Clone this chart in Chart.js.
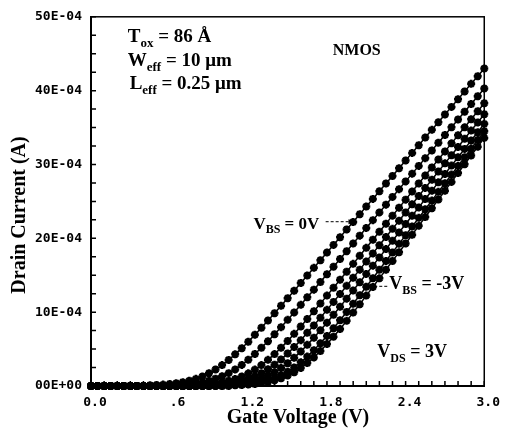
<!DOCTYPE html>
<html>
<head>
<meta charset="utf-8">
<script src="https://cdn.jsdelivr.net/npm/chart.js@4/dist/chart.umd.min.js"></script>
<style>
  html, body { margin: 0; padding: 0; background: #fff; }
</style>
</head>
<body>
<canvas id="ivChart" width="505" height="435"></canvas>
<script>
// gate voltage sweep (V)
var gateVoltage = [0.00,0.05,0.10,0.15,0.20,0.25,0.30,0.35,0.40,0.45,0.50,0.55,0.60,0.65,0.70,0.75,0.80,0.85,0.90,0.95,
  1.00,1.05,1.10,1.15,1.20,1.25,1.30,1.35,1.40,1.45,1.50,1.55,1.60,1.65,1.70,1.75,1.80,1.85,1.90,1.95,
  2.00,2.05,2.10,2.15,2.20,2.25,2.30,2.35,2.40,2.45,2.50,2.55,2.60,2.65,2.70,2.75,2.80,2.85,2.90,2.95,3.00];

// drain current, units of 1E-04 A
var vbs0 = [0,0,0,0,0,0,0,0,0,0.09,0.13,0.19,0.26,0.37,0.51,0.71,0.97,1.3,1.72,2.23,2.83,3.52,4.29,5.12,6.0,6.93,7.88,8.86,9.86,10.87,
  11.89,12.91,13.94,14.97,16.0,17.03,18.07,19.11,20.15,21.19,22.22,23.26,24.3,25.34,26.38,27.42,28.45,29.49,30.53,31.57,
  32.61,33.65,34.69,35.72,36.76,37.8,38.84,39.88,40.92,41.96,42.99];
var vbs05 = [0,0,0,0,0,0,0,0,0,0,0,0,0.09,0.13,0.19,0.27,0.37,0.52,0.72,0.98,1.32,1.74,2.25,2.86,3.56,4.33,5.17,6.07,7.0,7.97,
  8.96,9.97,10.99,12.01,13.05,14.09,15.13,16.16,17.21,18.26,19.31,20.36,21.41,22.46,23.51,24.56,25.61,26.66,27.71,28.76,
  29.81,30.86,31.9,32.95,34.0,35.05,36.1,37.15,38.2,39.25,40.3];
var vbs1 = [0,0,0,0,0,0,0,0,0,0,0,0,0,0,0,0.09,0.13,0.18,0.26,0.36,0.5,0.7,0.95,1.29,1.71,2.22,2.83,3.54,4.32,5.18,
  6.1,7.06,8.06,9.08,10.12,11.18,12.24,13.31,14.39,15.47,16.54,17.63,18.71,19.8,20.89,21.98,23.07,24.15,25.24,26.33,
  27.42,28.51,29.59,30.68,31.77,32.86,33.95,35.03,36.12,37.21,38.3];
var vbs15 = [0,0,0,0,0,0,0,0,0,0,0,0,0,0,0,0,0,0.09,0.13,0.19,0.26,0.37,0.51,0.71,0.97,1.31,1.74,2.26,2.89,3.6,
  4.41,5.28,6.21,7.2,8.21,9.25,10.31,11.39,12.47,13.56,14.66,15.76,16.85,17.96,19.07,20.17,21.28,22.39,23.5,24.61,
  25.72,26.83,27.93,29.04,30.15,31.26,32.37,33.48,34.59,35.69,36.8];
var vbs2 = [0,0,0,0,0,0,0,0,0,0,0,0,0,0,0,0,0,0,0,0.1,0.14,0.2,0.29,0.4,0.56,0.77,1.05,1.42,1.87,2.43,
  3.08,3.83,4.67,5.57,6.53,7.54,8.58,9.65,10.74,11.83,12.94,14.06,15.18,16.3,17.41,18.54,19.67,20.8,21.93,23.06,
  24.19,25.32,26.45,27.58,28.71,29.85,30.98,32.11,33.24,34.37,35.5];
var vbs25 = [0,0,0,0,0,0,0,0,0,0,0,0,0,0,0,0,0,0,0,0,0,0.1,0.15,0.21,0.3,0.42,0.58,0.8,1.09,1.47,
  1.94,2.52,3.2,3.98,4.84,5.78,6.78,7.83,8.91,10.02,11.14,12.28,13.43,14.59,15.75,16.92,18.07,19.25,20.42,21.59,
  22.77,23.94,25.11,26.29,27.46,28.63,29.81,30.98,32.15,33.33,34.5];
var vbs3 = [0,0,0,0,0,0,0,0,0,0,0,0,0,0,0,0,0,0,0,0,0,0,0.1,0.14,0.2,0.28,0.4,0.55,0.76,1.05,
  1.41,1.87,2.43,3.1,3.87,4.74,5.68,6.68,7.73,8.82,9.94,11.08,12.24,13.41,14.58,15.75,16.94,18.11,19.3,20.49,
  21.69,22.88,24.07,25.26,26.45,27.64,28.83,30.03,31.22,32.41,33.6];

var seriesList = [vbs0, vbs05, vbs1, vbs15, vbs2, vbs25, vbs3];
var seriesNames = ['VBS=0V', 'VBS=-0.5V', 'VBS=-1V', 'VBS=-1.5V', 'VBS=-2V', 'VBS=-2.5V', 'VBS=-3V'];

var xTickVals = [0, 0.6, 1.2, 1.8, 2.4, 3.0];
var xTickLabels = ['0.0', ' .6', '1.2', '1.8', '2.4', '3.0'];
var yTickVals = [0, 10, 20, 30, 40, 50];
var yTickLabels = ['00E+00', '10E-04', '20E-04', '30E-04', '40E-04', '50E-04'];
var xMinorTicks = [0.1,0.2,0.3,0.4,0.5,0.7,0.8,0.9,1.0,1.1,1.3,1.4,1.5,1.6,1.7,1.9,2.0,2.1,2.2,2.3,2.5,2.6,2.7,2.8,2.9];
var yMinorTicks = [2.5,5,7.5,12.5,15,17.5,22.5,25,27.5,32.5,35,37.5,42.5,45,47.5];

var xTitle = 'Gate Voltage (V)';
var yTitle = 'Drain Current (A)';

// text notes: [x (V), y (1E-04 A), parts [text, isSub], size]
var notes = [
  [0.28, 46.65, [['T', 0], ['ox', 1], [' = 86 \u00C5', 0]], 19],
  [0.28, 43.4, [['W', 0], ['eff', 1], [' = 10 \u03BCm', 0]], 19],
  [0.295, 40.2, [['L', 0], ['eff', 1], [' = 0.25 \u03BCm', 0]], 19],
  [1.844, 44.8, [['NMOS', 0]], 16],
  [1.239, 21.3, [['V', 0], ['BS', 1], [' = 0V', 0]], 17],
  [2.275, 13.1, [['V', 0], ['BS', 1], [' = -3V', 0]], 18],
  [2.184, 3.9, [['V', 0], ['DS', 1], [' = 3V', 0]], 18]
];
// arrows: [x from, x to, y]
var arrows = [[1.79, 2.01, 22.25], [2.26, 2.093, 13.5]];

function drawParts(ctx, x, y, parts, size) {
  parts.forEach(function(p) {
    var s = p[1] ? Math.round(size * 0.68) : size;
    ctx.font = 'bold ' + s + 'px "Liberation Serif"';
    ctx.fillText(p[0], x, y + (p[1] ? size * 0.28 : 0));
    x += ctx.measureText(p[0]).width;
  });
}

var decorPlugin = {
  id: 'decor',
  afterDraw: function(chart) {
    var ctx = chart.ctx, a = chart.chartArea;
    var xs = chart.scales.x, ys = chart.scales.y;
    ctx.save();
    ctx.strokeStyle = '#000';
    ctx.fillStyle = '#000';
    ctx.lineWidth = 1.5;
    ctx.strokeRect(a.left, a.top, a.right - a.left, a.bottom - a.top);
    // inward ticks
    ctx.beginPath();
    xTickVals.concat(xMinorTicks).forEach(function(v) {
      var px = xs.getPixelForValue(v);
      ctx.moveTo(px, a.bottom); ctx.lineTo(px, a.bottom - 5);
    });
    yTickVals.concat(yMinorTicks).forEach(function(v) {
      var py = ys.getPixelForValue(v);
      ctx.moveTo(a.left, py); ctx.lineTo(a.left + 5, py);
    });
    ctx.stroke();
    // axis titles
    ctx.font = 'bold 20px "Liberation Serif"';
    ctx.textAlign = 'center';
    ctx.textBaseline = 'middle';
    ctx.fillText(xTitle, 298, 418);
    ctx.save();
    ctx.translate(20, 215);
    ctx.rotate(-Math.PI / 2);
    ctx.fillText(yTitle, 0, 0);
    ctx.restore();
    // notes
    ctx.textBaseline = 'alphabetic';
    ctx.textAlign = 'left';
    notes.forEach(function(n) {
      drawParts(ctx, xs.getPixelForValue(n[0]), ys.getPixelForValue(n[1]), n[2], n[3]);
    });
    // dashed arrows
    arrows.forEach(function(ar) {
      var x1 = xs.getPixelForValue(ar[0]), x2 = xs.getPixelForValue(ar[1]), y = ys.getPixelForValue(ar[2]);
      var dir = x2 > x1 ? 1 : -1;
      ctx.lineWidth = 1;
      ctx.setLineDash([3, 2]);
      ctx.beginPath(); ctx.moveTo(x1, y); ctx.lineTo(x2 - dir * 5, y); ctx.stroke();
      ctx.setLineDash([]);
      ctx.beginPath();
      ctx.moveTo(x2, y); ctx.lineTo(x2 - dir * 6, y - 2.5); ctx.lineTo(x2 - dir * 6, y + 2.5);
      ctx.closePath(); ctx.fill();
    });
    ctx.restore();
  }
};

var datasets = seriesList.map(function(s, k) {
  return {
    label: seriesNames[k],
    data: gateVoltage.map(function(v, i) { return { x: v, y: s[i] }; }),
    borderColor: '#000',
    backgroundColor: '#000',
    borderWidth: 1.5,
    pointStyle: 'star',
    pointRadius: 4,
    pointBorderWidth: 2.5,
    pointBorderColor: '#000',
    tension: 0,
    clip: false
  };
});

var CHART = document.getElementById('ivChart');
var ivChart = new Chart(CHART, {
  type: 'line',
  data: { datasets: datasets },
  options: {
    responsive: false,
    animation: false,
    events: [],
    layout: { padding: { top: 13, right: 17, left: 0, bottom: 0 } },
    plugins: { legend: { display: false }, tooltip: { enabled: false } },
    scales: {
      x: {
        type: 'linear', min: 0, max: 3,
        afterFit: function(s) { s.height = 49; },
        afterBuildTicks: function(s) { s.ticks = xTickVals.map(function(v) { return { value: v }; }); },
        grid: { display: true, drawOnChartArea: false, drawTicks: false },
        border: { color: '#000', width: 2 },
        ticks: {
          padding: 9, color: '#000', maxRotation: 0, autoSkip: false, labelOffset: 4,
          font: { family: '"DejaVu Sans Mono"', weight: 'bold', size: 13 },
          callback: function(v, i) { return xTickLabels[i]; }
        }
      },
      y: {
        type: 'linear', min: 0, max: 50,
        afterFit: function(s) { s.width = 91; },
        afterBuildTicks: function(s) { s.ticks = yTickVals.map(function(v) { return { value: v }; }); },
        grid: { display: true, drawOnChartArea: false, drawTicks: false },
        border: { color: '#000', width: 2 },
        ticks: {
          padding: 9, color: '#000', autoSkip: false,
          font: { family: '"DejaVu Sans Mono"', weight: 'bold', size: 13 },
          callback: function(v, i) { return yTickLabels[i]; }
        }
      }
    }
  },
  plugins: [decorPlugin]
});
</script>
</body>
</html>
